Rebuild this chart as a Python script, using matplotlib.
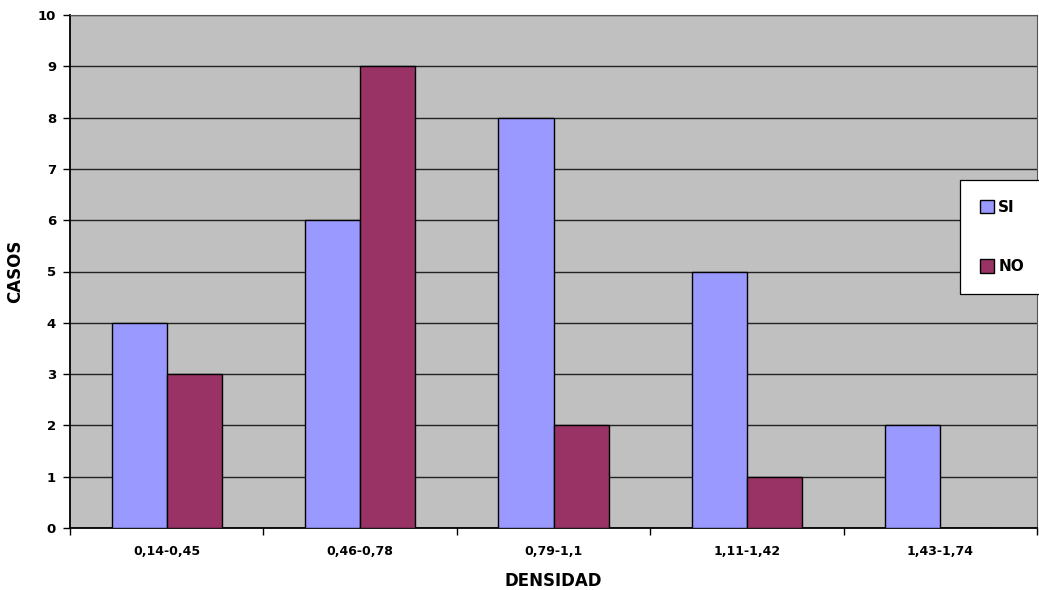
import matplotlib
matplotlib.use("Agg")
import matplotlib.pyplot as plt
import numpy as np

categories = ["0,14-0,45", "0,46-0,78", "0,79-1,1", "1,11-1,42", "1,43-1,74"]
si_values = [4, 6, 8, 5, 2]
no_values = [3, 9, 2, 1, 0]
series_names = ["SI", "NO"]

W, H = 1039, 590
fig = plt.figure(figsize=(W / 100, H / 100), dpi=100)
ax = fig.add_axes([70 / W, (H - 528) / H, (1037 - 70) / W, (528 - 15) / H])
ax.set_facecolor("#C0C0C0")

x = np.arange(len(categories))
bw = 0.285
ax.bar(x - bw / 2, si_values, bw, color="#9999FF", edgecolor="black", linewidth=1.0, zorder=3, label=series_names[0])
ax.bar(x + bw / 2, no_values, bw, color="#993366", edgecolor="black", linewidth=1.0, zorder=3, label=series_names[1])

ax.set_xlim(-0.5, len(categories) - 0.5)
ax.set_ylim(0, 10)
ax.set_yticks(range(0, 11))
ax.yaxis.grid(True, color="#222222", linewidth=1.0, zorder=1)
ax.set_axisbelow(True)

ax.set_xticks(np.arange(-0.5, len(categories), 1.0))
ax.set_xticklabels([])
ax.set_xticks(x, minor=True)
ax.set_xticklabels(categories, minor=True, fontsize=9, fontweight="bold")
ax.tick_params(axis="x", which="minor", length=0, pad=12)
ax.tick_params(axis="x", which="major", length=5, width=1, direction="out")
ax.tick_params(axis="y", length=5, width=1, direction="out", labelsize=9.5, pad=5)
for lbl in ax.get_yticklabels():
    lbl.set_fontweight("bold")

for side in ["left", "bottom"]:
    ax.spines[side].set_color("black")
    ax.spines[side].set_linewidth(1.3)
for side in ["top", "right"]:
    ax.spines[side].set_color("#555555")
    ax.spines[side].set_linewidth(0.8)

ax.set_ylabel("CASOS", fontsize=12, fontweight="bold", labelpad=10)
ax.set_xlabel("DENSIDAD", fontsize=12, fontweight="bold", labelpad=10)

leg = fig.legend(loc="upper left", bbox_to_anchor=(960 / W, 1 - 180 / H),
                 frameon=True, fancybox=False, edgecolor="black", framealpha=1,
                 handlelength=0.95, handleheight=0.95, handletextpad=0.25,
                 labelspacing=2.9, borderpad=1.3, borderaxespad=0,
                 prop={"weight": "bold", "size": 11})
leg.get_frame().set_linewidth(0.9)

fig.savefig("out.png", dpi=100)
